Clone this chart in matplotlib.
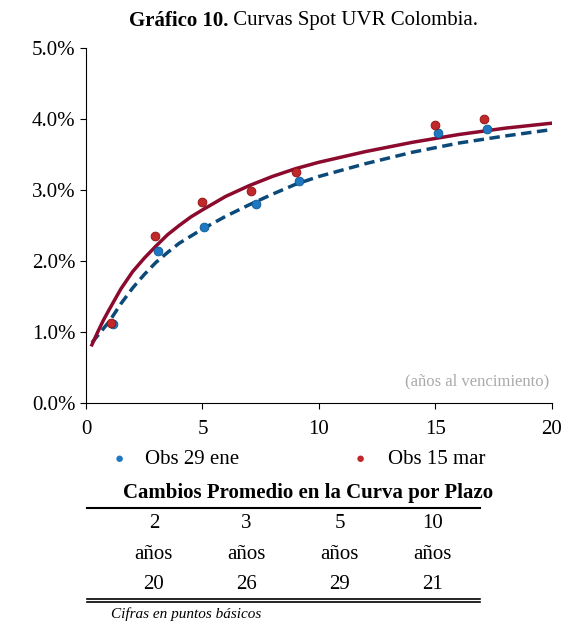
import matplotlib
matplotlib.use("Agg")
import matplotlib.pyplot as plt

plt.rcParams['font.family'] = ['Liberation Serif', 'DejaVu Serif']

obs_ene_x = [1.16, 3.09, 5.06, 7.3, 9.14, 15.1, 17.2]
obs_ene_y = [1.11, 2.14, 2.48, 2.80, 3.13, 3.80, 3.86]
obs_mar_x = [1.07, 2.96, 4.98, 7.1, 9.0, 15.0, 17.1]
obs_mar_y = [1.13, 2.35, 2.83, 2.99, 3.25, 3.92, 4.00]
curve_x = [0.25, 0.5, 0.75, 1, 1.5, 2, 2.5, 3, 3.5, 4, 4.5, 5, 6, 7, 8, 9, 10, 12, 14, 16, 18, 20]
curve_mar = [0.82, 1.00, 1.17, 1.32, 1.61, 1.85, 2.04, 2.21, 2.37, 2.50, 2.62, 2.72, 2.91, 3.06, 3.19, 3.30, 3.39, 3.54, 3.67, 3.78, 3.87, 3.94]
curve_ene = [0.85, 0.95, 1.05, 1.15, 1.40, 1.62, 1.81, 1.98, 2.12, 2.25, 2.35, 2.45, 2.63, 2.79, 2.94, 3.08, 3.19, 3.37, 3.53, 3.66, 3.76, 3.85]
plazos = ["2", "3", "5", "10"]
cambios = ["20", "26", "29", "21"]

fig = plt.figure(figsize=(5.7, 6.22), dpi=100)
ax = fig.add_axes([0.151, 0.352, 0.817, 0.571])
ax.plot(curve_x, curve_ene, color='#0b4a78', lw=2.5, ls=(0, (3, 1.6)), zorder=2)
ax.plot(curve_x, curve_mar, color='#8b0a2e', lw=2.5, zorder=2)
ax.scatter(obs_ene_x, obs_ene_y, s=40, color='#1f78c1', edgecolor='#0b5a90', lw=0.6, zorder=3)
ax.scatter(obs_mar_x, obs_mar_y, s=40, color='#c0282a', edgecolor='#8b1010', lw=0.6, zorder=3)
ax.set_xlim(0, 20)
ax.set_ylim(0, 5)
ax.set_xticks([0, 5, 10, 15, 20])
ax.set_yticks([0, 1, 2, 3, 4, 5])
ax.set_yticklabels([f"{v:.1f}%" for v in range(6)])
for s in ['top', 'right']:
    ax.spines[s].set_visible(False)
ax.tick_params(labelsize=15, length=4)
ax.tick_params(axis='x', pad=8)
ax.text(19.9, 0.3, "(años al vencimiento)", ha='right', va='center', fontsize=12, color='#aaaaaa')

fig.text(0.40, 0.967, "Gráfico 10.", ha='right', va='center', fontsize=15, fontweight='bold')
fig.text(0.40, 0.967, " Curvas Spot UVR Colombia.", ha='left', va='center', fontsize=15)

# legend
fig.text(0.21, 0.261, "●", color='#1f78c1', fontsize=11, ha='center', va='center')
fig.text(0.255, 0.261, "Obs 29 ene", fontsize=15, va='center')
fig.text(0.632, 0.261, "●", color='#c0282a', fontsize=11, ha='center', va='center')
fig.text(0.68, 0.261, "Obs 15 mar", fontsize=15, va='center')

fig.text(0.54, 0.207, "Cambios Promedio en la Curva por Plazo", ha='center', va='center',
         fontsize=15, fontweight='bold')
fig.add_artist(plt.Line2D([0.153, 0.842], [0.183, 0.183], color='black', lw=1.5))
cols = [0.27, 0.432, 0.596, 0.758]
for c, p, v in zip(cols, plazos, cambios):
    fig.text(c, 0.159, p, ha='center', va='center', fontsize=15)
    fig.text(c, 0.108, "años", ha='center', va='center', fontsize=15)
    fig.text(c, 0.061, v, ha='center', va='center', fontsize=15)
fig.add_artist(plt.Line2D([0.153, 0.842], [0.0375, 0.0375], color='black', lw=1.2))
fig.add_artist(plt.Line2D([0.153, 0.842], [0.032, 0.032], color='black', lw=1.2))
fig.text(0.195, 0.013, "Cifras en puntos básicos", ha='left', va='center', fontsize=11, style='italic')

fig.savefig("out.png", dpi=100)
